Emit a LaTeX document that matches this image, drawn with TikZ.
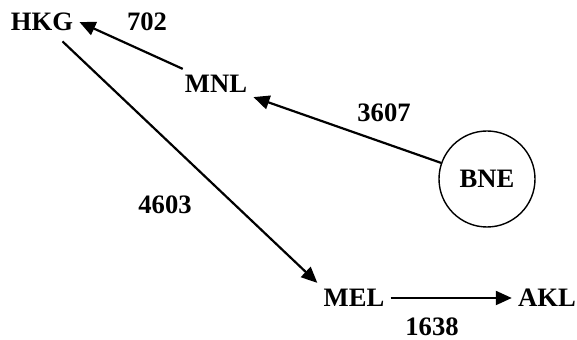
\documentclass[tikz,border=0pt]{standalone}
\usepackage{fontspec}
\setmainfont{Liberation Serif}
\usetikzlibrary{arrows.meta}

\begin{document}
\begin{tikzpicture}[
  x=0.5pt, y=-0.5pt,
  font=\fontsize{13.3}{16}\selectfont\bfseries, black,
  city/.style={inner sep=3pt},
  hub/.style={draw, circle, line width=0.7pt, minimum size=48pt, inner sep=0pt},
  route/.style={-{Triangle[length=8pt, width=7pt]}, line width=1.1pt},
  dist/.style={inner sep=1pt},
]
\useasboundingbox (0,0) rectangle (577,340);

% ---- airports --------------------------------------------------------------
\node[city] (hkg) at (42,22)   {HKG};
\node[city] (mnl) at (216,84)  {MNL};
\node[hub]  (bne) at (487,179) {BNE};
\node[city] (mel) at (354,298) {MEL};
\node[city] (akl) at (547,298) {AKL};

% ---- legs -----------------------------------------------------------------
\draw[route] (bne) -- (mnl);
\draw[route] (mnl) -- (hkg.east);
\draw[route, shorten <=3pt] (hkg) -- (mel.north west);
\draw[route] (mel) -- (akl);

% ---- distances ------------------------------------------------------------
\node[dist] (d702)  at (147,22)  {702};
\node[dist] (d3607) at (384,113) {3607};
\node[dist] (d4603) at (165,205) {4603};
\node[dist] (d1638) at (432,327) {1638};

\end{tikzpicture}
\end{document}
